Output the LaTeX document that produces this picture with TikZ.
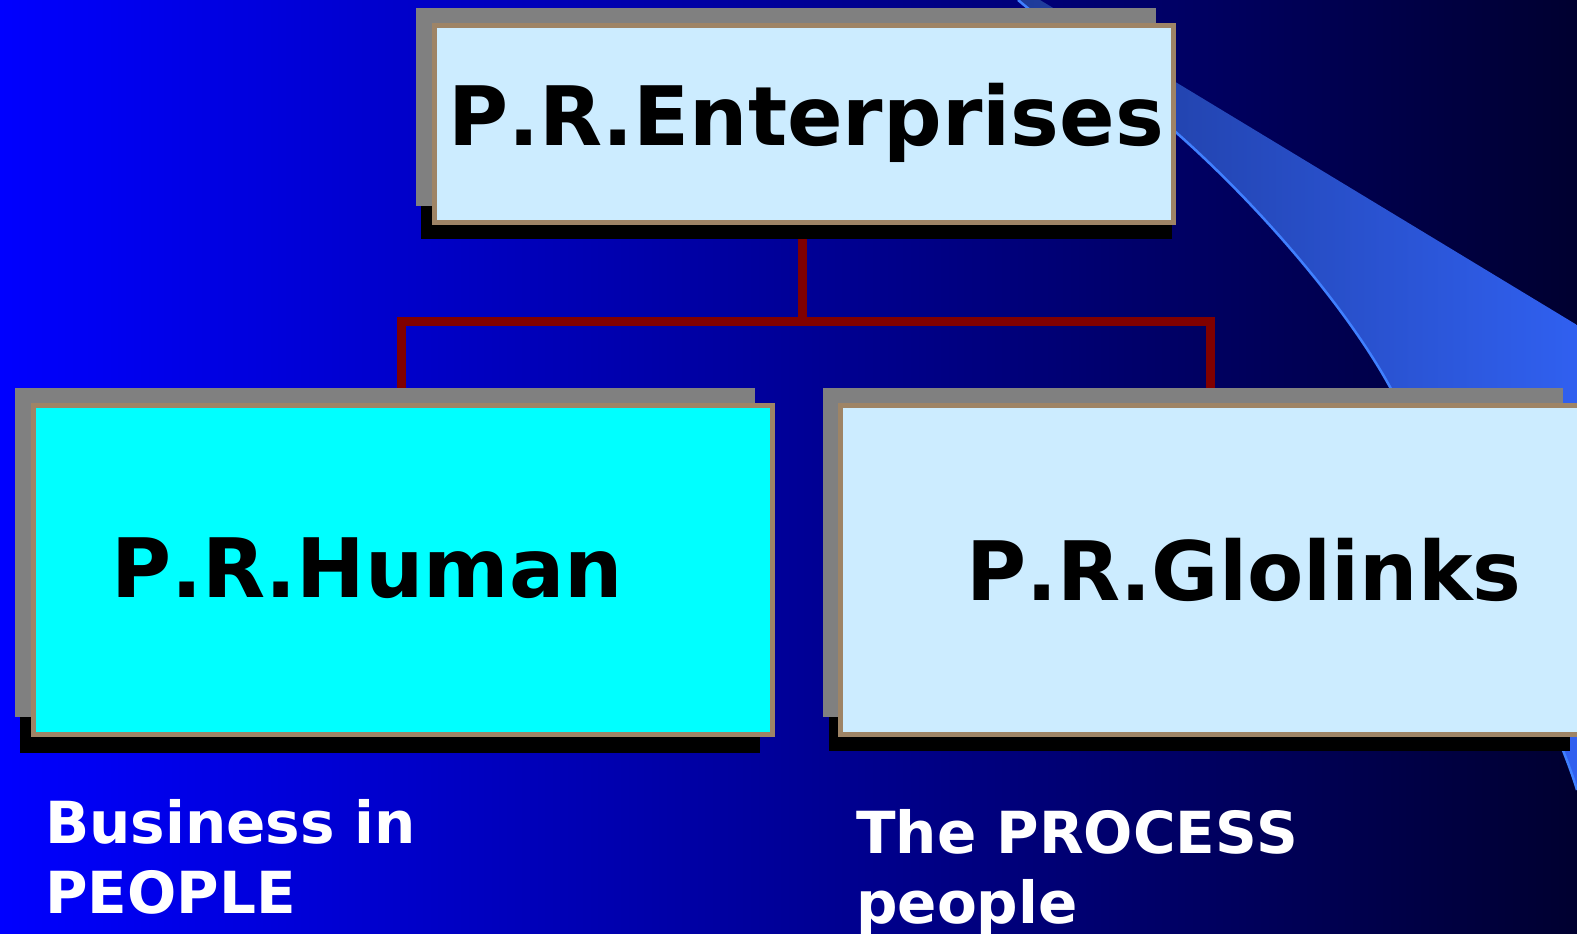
\documentclass[tikz,border=0pt]{standalone}
\usepackage{fontspec}
\setmainfont[Kerning=Off]{DejaVu Sans}
\definecolor{bgL}{HTML}{0000FF}
\definecolor{bgR}{HTML}{000030}
\definecolor{beamL}{HTML}{1E3A98}
\definecolor{beamR}{HTML}{3060F0}
\definecolor{beamEdge}{HTML}{4080FF}
\definecolor{tanc}{HTML}{9E8466}
\definecolor{lblue}{HTML}{CCECFF}
\definecolor{cyanc}{HTML}{00FFFF}
\definecolor{grayc}{HTML}{808080}
\definecolor{redc}{HTML}{800000}
\tikzset{
  box/.style={draw=tanc, line width=5pt, inner sep=0pt, minimum width=739pt, minimum height=329pt},
  boxtext/.style={inner sep=0pt, anchor=base west, font=\bfseries\fontsize{82}{98}\selectfont, text=black},
  subtext/.style={inner sep=0pt, anchor=base west, align=left, font=\bfseries\fontsize{58}{70}\selectfont, text=white},
  conn/.style={draw=redc, line width=9pt},
  beamline/.style={draw=beamEdge, line width=2.5pt}
}
\begin{document}
\begin{tikzpicture}[x=1pt,y=-1pt]
\useasboundingbox (0,0) rectangle (1577,934);
\clip (0,0) rectangle (1577,934);
% background
\shade[left color=bgL, right color=bgR] (0,0) rectangle (1577,934);
% swoosh beam
\shade[left color=beamL, right color=beamR] (1018,0) -- (1040,0) -- (1577,325) -- (1577,790)
  .. controls (1557,720) and (1440,477) .. (1390,387)
  .. controls (1345,305) and (1250,193) .. (1150,110) -- cycle;
\draw[beamline] (1018,0) -- (1150,110)
  .. controls (1250,193) and (1345,305) .. (1390,387)
  .. controls (1440,477) and (1557,720) .. (1577,790);
% box nodes (positions)
\path (804,124) node[box, fill=lblue, minimum height=197pt] (top) {};
\path (403,570) node[box, fill=cyanc] (human) {};
\path (1210,570) node[box, fill=lblue] (glo) {};
\coordinate (mid) at (802,321);
% connectors
\draw[conn] (top.south -| mid) -- (mid);
\draw[conn] (human.north -| 401,0) |- (mid) -| (glo.north);
% shadows
\fill[black] (421,40) rectangle (1172,239);
\fill[grayc] (416,8) rectangle (1156,206);
\fill[black] (20,420) rectangle (760,753);
\fill[grayc] (15,388) rectangle (755,717);
\fill[black] (829,420) rectangle (1570,751);
\fill[grayc] (823,388) rectangle (1563,717);
% boxes redrawn on top of shadows
\path (804,124) node[box, fill=lblue, minimum height=197pt] (topb) {};
\path (403,570) node[box, fill=cyanc] (humanb) {};
\path (1210,570) node[box, fill=lblue] (glob) {};
% texts
\node[boxtext] (t1) at (448,145) {P.R.Enterprises};
\node[boxtext] (t2) at (111,597) {P.R.Human};
\node[boxtext] (t3) at (966,600) {P.R.Glolinks};
\node[subtext] (s1) at (45,913) {Business in\\PEOPLE};
\node[subtext] (s2) at (856,923) {The PROCESS\\people};
\end{tikzpicture}
\end{document}
